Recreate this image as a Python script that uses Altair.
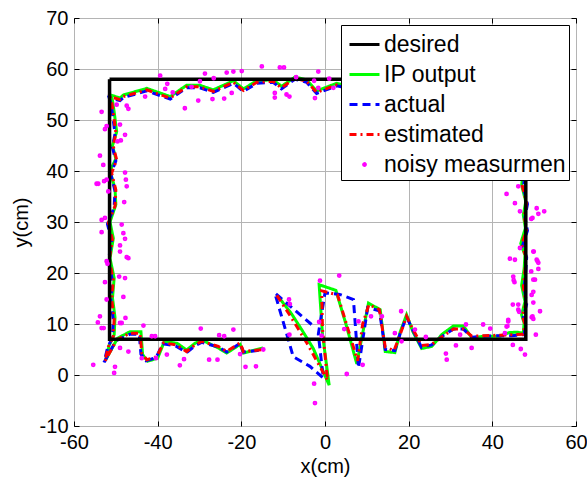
import altair as alt
import pandas as pd

series_names = ["desired", "IP output", "actual", "estimated", "noisy measurmen"]
series_colors = ["#000000", "#00ff00", "#0000ff", "#ff0000", "#ff00ff"]
series_dashes = [[1, 0], [1, 0], [8, 5], [7, 4, 2, 4], [1, 0]]
dot_path = "M -0.06 0 A 0.06 0.06 0 1 0 0.06 0 A 0.06 0.06 0 1 0 -0.06 0 Z"
legend_shapes = ["stroke", "stroke", "stroke", "stroke", dot_path]

x_ticks = [-60, -40, -20, 0, 20, 40, 60]
y_ticks = [-10, 0, 10, 20, 30, 40, 50, 60, 70]

desired_x = [-51.5, 48, 48, -51.5, -51.5]
desired_y = [58, 58, 7, 7, 58]

ip_x = [-11.2, -8.0, -5.5, -2.8, 1.0, -0.6, -1.4, 2.6, 5.0, 7.6, 10.4, 13.2, 14.4, 16.7, 18.0, 19.5, 21.0, 23.1, 25.5, 28.0, 30.7, 33.1, 35.1, 38.0, 41.8, 44.0, 45.8, 47.4,
        47.6, 47.0, 47.8, 47.0, 47.6, 47.8, 46.8, 47.9, 47.4, 48.0, 47.0, 47.6, 47.2, 47.8, 47.3, 47.7, 47.3,
        44.0, 40.0, 36.0, 32.0, 28.0, 24.0, 20.0, 16.0, 12.0, 8.0, 5.0, 2.8, -2.0, -4.4, -7.2, -10.4, -12.4, -16.3, -19.5, -21.9, -26.7, -29.9, -33.1, -37.0, -42.6, -48.2, -49.0, -51.2,
        -50.8, -50.4, -49.8, -50.8, -50.0, -51.4, -50.2, -50.0, -51.4, -50.6, -51.4, -50.4, -50.8, -50.2, -50.4, -51.6, -52.4,
        -49.6, -46.6, -44.0, -43.6, -42.4, -40.0, -38.4, -35.3, -33.1, -31.1, -29.5, -25.5, -23.5, -20.3, -19.5, -14.8]
ip_y = [15.4, 12.0, 8.8, 5.2, -2.0, 8.0, 17.7, 16.6, 10.0, 2.2, 14.1, 12.8, 4.6, 4.4, 8.5, 11.8, 8.5, 5.2, 5.6, 8.0, 9.6, 9.6, 7.3, 7.6, 7.6, 8.3, 8.4, 8.2,
        10.2, 11.8, 14.4, 17.6, 20.8, 23.5, 25.8, 28.8, 31.4, 34.0, 37.2, 40.8, 44.3, 48.3, 52.3, 55.3, 57.3,
        57.8, 57.1, 57.9, 57.0, 57.6, 58.1, 57.1, 57.8, 57.3, 57.9, 56.8, 57.2, 55.7, 57.9, 58.4, 56.6, 57.9, 57.7, 56.1, 57.7, 55.9, 56.8, 56.8, 54.6, 56.2, 54.9, 54.3, 54.9,
        53.8, 51.6, 47.7, 45.0, 42.4, 40.0, 36.6, 33.4, 30.0, 26.8, 22.9, 19.0, 15.1, 11.3, 7.9, 5.8, 3.0,
        7.2, 8.5, 8.5, 4.0, 2.7, 3.3, 6.6, 6.2, 4.9, 6.2, 6.9, 5.3, 4.3, 6.0, 4.3, 5.3]

actual_x = [-3.2, -12.0, -9.5, -7.6, -3.6, -0.4, -1.6, 0.0, 3.5, 6.8, 8.0, 10.2, 13.0, 14.4, 16.7, 18.0, 19.5, 21.0, 23.1, 25.5, 28.0, 30.7, 33.1, 35.1, 38.0, 41.8, 44.5, 47.6,
            47.9, 47.4, 48.2, 47.6, 48.0, 48.2, 47.2, 48.4, 47.8, 48.4, 47.4, 48.0, 47.6, 48.2, 47.7, 48.1, 47.7,
            44.0, 40.0, 36.0, 32.0, 28.0, 24.0, 20.0, 16.0, 12.0, 8.0, 5.0, 2.8, -2.0, -4.4, -7.2, -10.4, -12.4, -16.3, -19.5, -21.9, -26.7, -29.9, -33.1, -37.0, -42.6, -48.2, -49.0, -51.6,
            -51.2, -50.8, -50.2, -50.8, -50.0, -51.2, -50.2, -50.4, -52.0, -51.0, -51.8, -50.8, -51.2, -50.6, -50.8, -52.0, -52.8,
            -50.0, -46.6, -44.4, -44.0, -42.8, -40.4, -38.8, -35.7, -33.1, -31.1, -29.5, -25.5, -23.5, -20.3, -19.5, -15.0]
actual_y = [9.9, 16.1, 9.0, 3.6, 1.7, -0.6, 8.0, 16.1, 15.8, 14.8, 1.4, 13.2, 12.6, 5.0, 4.8, 8.2, 11.4, 8.8, 5.4, 5.9, 7.6, 9.0, 9.0, 7.4, 7.6, 7.7, 7.7, 7.9,
            10.0, 11.4, 13.9, 17.2, 20.4, 23.1, 25.3, 28.3, 30.9, 33.5, 36.8, 40.3, 43.8, 47.8, 51.8, 54.8, 56.8,
            57.3, 56.6, 57.4, 56.5, 57.1, 57.6, 56.6, 57.3, 56.8, 57.4, 56.3, 56.7, 55.2, 57.4, 58.0, 56.1, 57.4, 57.2, 55.6, 57.2, 55.4, 56.3, 56.3, 54.1, 55.7, 54.4, 53.8, 54.4,
            53.3, 51.2, 47.3, 44.6, 42.0, 39.4, 36.1, 32.9, 29.6, 26.3, 22.4, 18.5, 14.6, 10.8, 7.4, 5.3, 2.5,
            6.7, 8.0, 8.0, 4.1, 2.8, 3.4, 6.1, 5.7, 4.4, 5.7, 6.4, 5.5, 4.5, 6.2, 4.5, 4.9]

est_x = [-11.5, -8.0, -4.5, 0.6, -0.6, -0.8, 3.0, 5.5, 7.8, 9.0, 10.5, 13.0, 14.4, 16.5, 18.0, 19.5, 21.0, 23.1, 25.5, 28.0, 30.7, 33.1, 35.1, 38.0, 41.8, 44.5, 47.4,
         47.8, 47.2, 48.0, 47.4, 47.8, 48.0, 47.0, 48.2, 47.6, 48.2, 47.2, 47.8, 47.4, 48.0, 47.5, 47.9, 47.5,
         44.0, 40.0, 36.0, 32.0, 28.0, 24.0, 20.0, 16.0, 12.0, 8.0, 5.0, 2.8, -2.0, -4.4, -7.2, -10.4, -12.4, -16.3, -19.5, -21.9, -26.7, -29.9, -33.1, -37.0, -42.6, -48.2, -49.0, -51.4,
         -51.0, -50.6, -50.0, -50.6, -49.8, -51.0, -50.0, -50.2, -51.8, -50.8, -51.6, -50.6, -51.0, -50.4, -50.6, -51.8, -52.6,
         -49.8, -46.6, -44.2, -43.8, -42.6, -40.2, -38.6, -35.5, -33.1, -31.1, -29.5, -25.5, -23.5, -20.3, -19.5, -14.8]
est_y = [15.6, 11.2, 6.5, -1.0, 9.0, 16.5, 15.7, 9.0, 2.8, 10.0, 13.8, 12.8, 5.5, 4.8, 8.0, 11.5, 9.0, 5.8, 6.0, 7.5, 9.0, 9.0, 7.6, 7.7, 7.8, 7.9, 8.0,
         10.0, 11.5, 14.1, 17.4, 20.6, 23.3, 25.5, 28.5, 31.1, 33.7, 37.0, 40.5, 44.0, 48.0, 52.0, 55.0, 57.0,
         57.5, 56.8, 57.6, 56.7, 57.3, 57.8, 56.8, 57.5, 57.0, 57.6, 56.5, 56.9, 55.4, 57.6, 58.2, 56.3, 57.6, 57.4, 55.8, 57.4, 55.6, 56.5, 56.5, 54.3, 55.9, 54.6, 54.0, 54.6,
         53.5, 51.4, 47.5, 44.8, 42.2, 39.6, 36.3, 33.1, 29.8, 26.5, 22.6, 18.7, 14.8, 11.0, 7.6, 5.5, 2.7,
         6.9, 8.2, 8.2, 4.3, 3.0, 3.6, 6.3, 5.9, 4.6, 5.9, 6.6, 5.6, 4.6, 6.3, 4.6, 5.0]

noisy_x = [-39.4, -38.2, -37.7, -36.4, -33.5, -31.9, -30.3, -29.9, -28.7, -26.9, -26.6, -24.1, -23.5, -22.3, -21.9, -19.9, -15.1, -12.0, -12.0, -10.8, -9.8, -9.2, -8.5, -6.9, -2.6, -2.4, -1.6, -1.6, 1.0, 2.0, -43.0,
           -47.4, -47.0, -49.8,
           -53.4, -52.6, -52.2, -49.0, -47.8, -49.6, -48.8, -53.8, -53.0, -54.2, -52.8, -52.2, -51.8, -47.8, -47.6, -47.4, -48.0, -52.6, -53.4, -53.4, -48.6, -48.2, -47.8, -49.0, -49.0, -47.0, -47.4, -52.2, -52.0, -47.8, -49.2, -52.6, -48.2, -52.2, -54.3, -53.8, -53.4, -52.9, -47.7, -48.6, -49.0, -43.4, -47.0, -49.0, -55.4, -50.2, -50.4, -54.6,
           -41.4, -40.6, -43.8, -40.4, -37.8, -34.7, -33.7, -29.7, -27.7, -25.7, -25.3, -24.1, -21.9, -20.3, -19.0, -16.5, -14.75,
           -1.2, 3.4, -8.6, -8.4, -1.4, 4.6, -8.5, -0.8, 5.2, -2.6, -2.4, 8.0, 11.0, 9.0, 13.6,
           18.2, 16.7, 18.3, 21.5, 24.1, 28.9, 29.1, 31.3, 32.3, 33.7, 35.05, 37.8, 39.5, 43.0, 43.8, 43.6, 44.9, 46.8, 47.8, 50.4,
           45.0, 45.3, 49.8, 49.8, 49.8, 51.4, 49.8, 46.2, 46.4, 44.9, 44.2, 49.8, 51.0, 51.0, 43.4, 45.4, 46.2, 46.6, 50.6, 51.0, 52.4, 49.3, 49.6, 45.4, 46.6, 49.9, 50.6, 50.8, 49.3, 50.2, 45.1, 49.4, 46.2, 49.6, 49.4, 43.8, 43.4]
noisy_y = [58.7, 56.1, 57.1, 55.4, 52.3, 56.5, 53.8, 57.6, 59.1, 54.1, 58.2, 54.2, 59.3, 55.3, 59.5, 59.6, 60.5, 55.3, 54.4, 60.3, 60.3, 55.0, 54.6, 58.4, 57.7, 54.3, 59.5, 56.3, 58.1, 56.3, 54.6,
           52.8, 52.2, 53.0,
           51.6, 48.2, 48.8, 49.1, 47.1, 45.8, 46.0, 43.0, 41.2, 37.5, 38.0, 38.3, 36.0, 39.7, 38.3, 37.0, 33.9, 30.8, 28.0, 30.4, 29.5, 27.8, 26.7, 25.4, 24.2, 22.9, 23.1, 22.3, 21.8, 19.0, 19.3, 18.2, 15.3, 14.8, 10.3, 11.5, 9.2, 9.2, 11.2, 10.2, 10.2, 9.7, 4.6, 5.3, 2.0, 1.6, 0.4, 37.5,
           7.6, 7.6, 3.3, 3.3, 4.0, 1.9, 3.1, 9.1, 3.0, 3.0, 7.8, 7.6, 8.9, 4.1, 1.6, 1.7, 5.0,
           18.5, 19.5, 14.8, 13.9, 10.4, 9.0, 7.9, 7.7, 0.2, -1.7, -5.5, 10.5, 11.5, 2.0, 11.5,
           12.5, 8.2, 6.6, 8.9, 7.45, 4.2, 3.0, 5.8, 7.9, 9.9, 5.3, 9.9, 9.1, 8.2, 10.5, 9.6, 5.9, 5.1, 4.0, 7.9,
           19.3, 18.2, 18.7, 16.3, 14.2, 12.5, 11.0, 12.8, 12.4, 13.8, 22.8, 24.2, 20.8, 22.0, 35.5, 33.7, 37.0, 32.1, 32.7, 31.6, 32.1, 30.6, 30.8, 22.6, 24.9, 24.2, 22.6, 22.3, 20.3, 18.7, 18.6, 15.7, 13.8, 11.5, 11.3, 10.8, 9.5]


def frame(name, xs, ys):
    return pd.DataFrame({"series": name, "i": list(range(len(xs))), "x": xs, "y": ys})


desired_df = frame("desired", desired_x, desired_y)
ip_df = frame("IP output", ip_x, ip_y)
actual_df = frame("actual", actual_x, actual_y)
est_df = frame("estimated", est_x, est_y)
noisy_df = frame("noisy measurmen", noisy_x, noisy_y)

FONT = "Liberation Sans"

legend = alt.Legend(
    title=None, orient="none", legendX=267, legendY=7,
    fillColor="white", strokeColor="black", padding=3, cornerRadius=0,
    labelFont=FONT, labelFontSize=23, labelColor="black", labelLimit=400,
    symbolStrokeWidth=3, symbolSize=900, symbolOffset=4,
    rowPadding=1, labelOffset=3,
)

color_scale = alt.Scale(domain=series_names, range=series_colors)
dash_scale = alt.Scale(domain=series_names, range=series_dashes)
shape_scale = alt.Scale(domain=series_names, range=legend_shapes)
x_scale = alt.Scale(domain=[-60, 60], nice=False)
y_scale = alt.Scale(domain=[-10, 70], nice=False)

minus_fix = "datum.value < 0 ? '-' + abs(datum.value) : '' + datum.value"

main_x_axis = alt.Axis(values=x_ticks, title="x(cm)", labelExpr=minus_fix, grid=True, ticks=False)
main_y_axis = alt.Axis(values=y_ticks, title="y(cm)", labelExpr=minus_fix, grid=True, ticks=False)


def tick_axis(values, orient):
    return alt.Axis(values=values, orient=orient, offset=-5, tickSize=5, ticks=True,
                    labels=False, grid=False, domain=False, title=None,
                    tickColor="black", tickWidth=1)


def line_layer(df, width, x_axis, y_axis):
    return alt.Chart(df).mark_line(strokeWidth=width).encode(
        x=alt.X("x:Q", scale=x_scale, axis=x_axis),
        y=alt.Y("y:Q", scale=y_scale, axis=y_axis),
        order=alt.Order("i:Q"),
        color=alt.Color("series:N", scale=color_scale, legend=legend),
        strokeDash=alt.StrokeDash("series:N", scale=dash_scale, legend=legend),
    )


points = alt.Chart(noisy_df).mark_point(
    filled=True, opacity=1, size=900, stroke="#ff00ff", strokeWidth=3
).encode(
    x=alt.X("x:Q", scale=x_scale, axis=main_x_axis),
    y=alt.Y("y:Q", scale=y_scale, axis=main_y_axis),
    color=alt.Color("series:N", scale=color_scale, legend=legend),
    shape=alt.Shape("series:N", scale=shape_scale, legend=legend),
)

chart = alt.layer(
    line_layer(ip_df, 3, tick_axis(x_ticks, "bottom"), tick_axis(y_ticks, "left")),
    line_layer(actual_df, 3, tick_axis(x_ticks, "top"), tick_axis(y_ticks, "right")),
    line_layer(est_df, 3, None, None),
    line_layer(desired_df, 3.5, None, None),
    points,
).resolve_axis(
    x="independent", y="independent"
).properties(
    width=502, height=408,
    autosize=alt.AutoSizeParams(type="none"),
    padding={"left": 74, "top": 18, "right": 11, "bottom": 55},
).configure_view(
    stroke="black", strokeWidth=1,
).configure_axis(
    labelFont=FONT, labelFontSize=20, labelColor="black", labelFlush=False,
    titleFont=FONT, titleFontSize=20, titleFontWeight="normal", titleColor="black",
    gridColor="#b4b4b4", gridWidth=1, domain=False, labelPadding=6,
).configure_axisX(titlePadding=4).configure_axisY(titlePadding=8)

chart.save("out.html", embed_options={"renderer": "svg", "actions": False})
